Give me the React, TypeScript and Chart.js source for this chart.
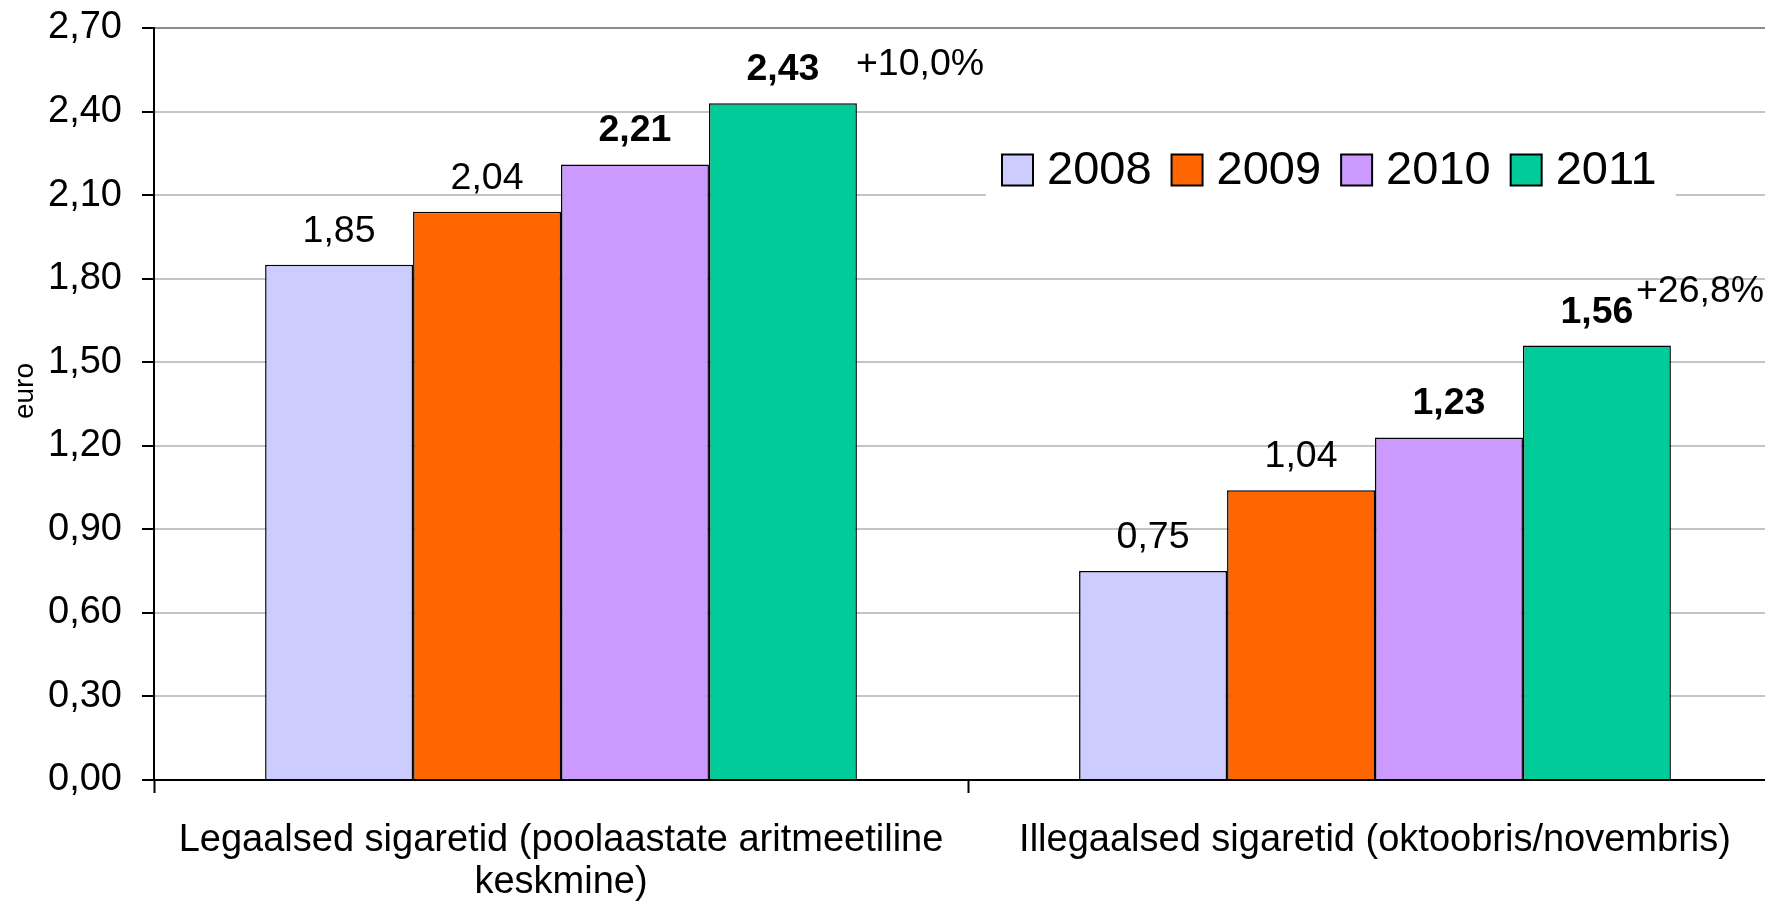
import React, { useEffect, useRef } from "react";
import { Chart, registerables } from "chart.js";

Chart.register(...registerables);

const categories: (string | string[])[] = [
  ["Legaalsed sigaretid (poolaastate aritmeetiline", "keskmine)"],
  "Illegaalsed sigaretid (oktoobris/novembris)",
];
const seriesNames = ["2008", "2009", "2010", "2011"];
const values2008 = [1.85, 0.75];
const values2009 = [2.04, 1.04];
const values2010 = [2.21, 1.23];
const values2011 = [2.43, 1.56];
const seriesColors = ["#CCCCFF", "#FF6600", "#CC99FF", "#00CC99"];
const boldSeries = [false, false, true, true];
const changeLabels = ["+10,0%", "+26,8%"];
const yMin = 0;
const yMax = 2.7;
const yStep = 0.3;
const yTitle = "euro";

const FONT = "'Liberation Sans', Arial, sans-serif";
const fmt = (v: number) => v.toFixed(2).replace(".", ",");

const valueLabelPlugin = {
  id: "valueLabels",
  afterDatasetsDraw(chart: any) {
    const ctx = chart.ctx;
    ctx.save();
    ctx.fillStyle = "#000";
    ctx.textAlign = "center";
    ctx.textBaseline = "alphabetic";
    chart.data.datasets.forEach((ds: any, di: number) => {
      const meta = chart.getDatasetMeta(di);
      ctx.font = `${boldSeries[di] ? "bold " : ""}37.5px ${FONT}`;
      meta.data.forEach((bar: any, i: number) => {
        ctx.fillText(fmt(ds.data[i]), bar.x, bar.y - 23);
      });
    });
    const last = chart.getDatasetMeta(chart.data.datasets.length - 1);
    ctx.font = `37.5px ${FONT}`;
    ctx.textAlign = "left";
    last.data.forEach((bar: any, i: number) => {
      const w = bar.width;
      if (i === 0) ctx.fillText(changeLabels[i], bar.x + w / 2 - 1, bar.y - 28);
      else ctx.fillText(changeLabels[i], bar.x + w / 2 - 35, bar.y - 44);
    });
    // y-axis title
    ctx.save();
    ctx.font = `28px ${FONT}`;
    ctx.textAlign = "center";
    ctx.textBaseline = "middle";
    ctx.translate(25, 391);
    ctx.rotate(-Math.PI / 2);
    ctx.fillText(yTitle, 0, 0);
    ctx.restore();
    ctx.restore();
  },
};

const legendPlugin = {
  id: "customLegend",
  afterDraw(chart: any) {
    const ctx = chart.ctx;
    const area = chart.chartArea;
    ctx.save();
    ctx.font = `47px ${FONT}`;
    const startX = area.left + 848;
    const midY = area.top + 142;
    const box = 31;
    let x = startX;
    const items = chart.data.datasets.map((ds: any) => {
      const tw = ctx.measureText(ds.label).width;
      const item = { x, label: ds.label, color: ds.backgroundColor, tw };
      x += box + 14 + tw + 20;
      return item;
    });
    const endX = x - 20;
    ctx.fillStyle = "#fff";
    ctx.fillRect(startX - 16, midY - 38, endX - startX + 35, 76);
    items.forEach((it: any) => {
      ctx.fillStyle = it.color;
      ctx.fillRect(it.x, midY - box / 2, box, box);
      ctx.strokeStyle = "#000";
      ctx.lineWidth = 2;
      ctx.strokeRect(it.x, midY - box / 2, box, box);
      ctx.fillStyle = "#000";
      ctx.textAlign = "left";
      ctx.textBaseline = "middle";
      ctx.fillText(it.label, it.x + box + 14, midY + 1);
    });
    ctx.restore();
  },
};

const CANVAS_W = 1782;
const CANVAS_H = 901;

export default function App() {
  const canvasRef = useRef<HTMLCanvasElement | null>(null);

  useEffect(() => {
    document.body.style.margin = "0";
    const canvas = canvasRef.current;
    if (!canvas) return;
    const allValues = [values2008, values2009, values2010, values2011];
    const chart = new Chart(canvas, {
      type: "bar",
      data: {
        labels: categories,
        datasets: seriesNames.map((name, i) => ({
          label: name,
          data: allValues[i],
          backgroundColor: seriesColors[i],
          borderColor: "#000",
          borderWidth: 1.5,
          barPercentage: 1,
          categoryPercentage: 0.727,
        })),
      },
      options: {
        animation: false,
        responsive: false,
        maintainAspectRatio: false,
        devicePixelRatio: 1,
        layout: { padding: { top: 28, right: 0, left: 0, bottom: 0 } },
        plugins: {
          legend: { display: false },
          tooltip: { enabled: false },
          title: { display: false },
        },
        scales: {
          x: {
            offset: true,
            border: { color: "#000", width: 2 },
            grid: {
              offset: true,
              drawOnChartArea: false,
              drawTicks: true,
              tickLength: 13,
              tickColor: "#000",
              tickWidth: 2,
            },
            ticks: {
              color: "#000",
              font: { family: FONT, size: 38, lineHeight: 1.1 },
              padding: 27,
              maxRotation: 0,
              minRotation: 0,
              autoSkip: false,
            },
            afterFit: (scale: any) => {
              scale.height = 121;
              scale.paddingLeft = 0;
              scale.paddingRight = 0;
            },
          },
          y: {
            min: yMin,
            max: yMax,
            border: { color: "#000", width: 2 },
            grid: {
              color: (c: any) => (c.tick && Math.abs(c.tick.value - yMax) < 1e-6 ? "#8c8c8c" : "#c4c4c4"),
              lineWidth: 2,
              tickLength: 12,
              tickColor: "#000",
              tickWidth: 2,
            },
            ticks: {
              stepSize: yStep,
              color: "#000",
              font: { family: FONT, size: 38 },
              padding: 20,
              callback: (v: any) => fmt(Number(v)),
            },
            title: { display: false },
            afterFit: (scale: any) => {
              scale.width = 154;
              scale.paddingTop = 0;
              scale.paddingBottom = 0;
            },
          },
        },
      },
      plugins: [valueLabelPlugin, legendPlugin],
    });
    return () => chart.destroy();
  }, []);

  return (
    <div
      style={{
        position: "fixed",
        left: 0,
        top: 0,
        width: 1765,
        height: 901,
        overflow: "hidden",
        background: "#fff",
      }}
    >
      <canvas
        ref={canvasRef}
        width={CANVAS_W}
        height={CANVAS_H}
        style={{ width: CANVAS_W, height: CANVAS_H, display: "block" }}
      />
    </div>
  );
}
